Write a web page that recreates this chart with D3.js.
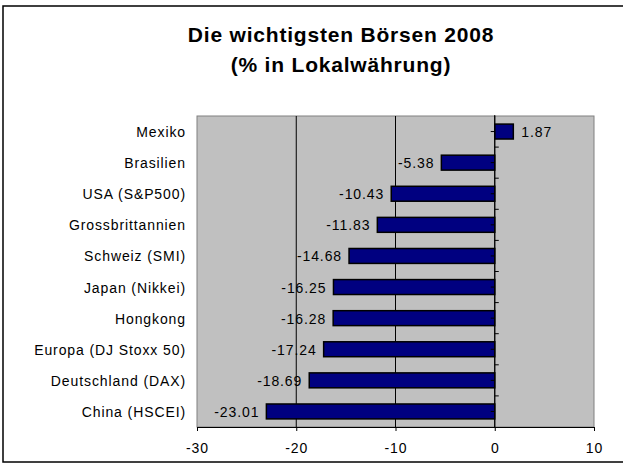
<!DOCTYPE html>
<html lang="de">
<head>
    <meta charset="UTF-8">
    <title>Die wichtigsten Börsen 2008</title>
    <script src="https://d3js.org/d3.v7.min.js"></script>
    <style>
        body { margin: 0; background: #fff; }
        text { font-family: "Liberation Sans", Arial, sans-serif; fill: #000; }
    </style>
</head>

<body>
<svg id="main" width="623" height="464"></svg>
<script>
    // the data
    const boersen = ['Mexiko', 'Brasilien', 'USA (S&P500)', 'Grossbrittannien', 'Schweiz (SMI)',
        'Japan (Nikkei)', 'Hongkong', 'Europa (DJ Stoxx 50)', 'Deutschland (DAX)', 'China (HSCEI)'];
    const veraenderung = [1.87, -5.38, -10.43, -11.83, -14.68, -16.25, -16.28, -17.24, -18.69, -23.01];
    const xTicks = [-30, -20, -10, 0, 10];
    const titel = ['Die wichtigsten Börsen 2008', '(% in Lokalwährung)'];

    let data = boersen.map(function (d, i) { return {name: d, value: veraenderung[i]}; });

    // step 1 select the svg and draw the chart frame
    let svg = d3.select('svg#main');
    let plot = {left: 197, right: 594, top: 116, bottom: 427};

    svg.append('rect')
        .attr('x', 3).attr('y', 6)
        .attr('width', 700).attr('height', 456)
        .attr('fill', '#fff')
        .attr('stroke', '#000')
        .attr('stroke-width', 1.5);

    // title, two lines
    svg.append('g').selectAll('text')
        .data(titel)
        .enter()
        .append('text')
        .attr('x', 341)
        .attr('y', function (d, i) { return 42 + i * 30; })
        .attr('text-anchor', 'middle')
        .style('font-size', '21px')
        .style('font-weight', 'bold')
        .style('letter-spacing', '0.8px')
        .text(function (d) { return d; });

    // step 2 scales
    let xScale = d3.scaleLinear()
        .domain([xTicks[0], xTicks[xTicks.length - 1]])
        .range([plot.left, plot.right]);
    let yScale = d3.scaleBand()
        .domain(boersen)
        .range([plot.top, plot.bottom])
        .paddingInner(0.52)
        .paddingOuter(0.26);

    // step 3 plot area and grid lines
    svg.append('rect')
        .attr('x', plot.left).attr('y', plot.top)
        .attr('width', plot.right - plot.left)
        .attr('height', plot.bottom - plot.top)
        .attr('fill', '#c0c0c0')
        .attr('stroke', '#808080')
        .attr('stroke-width', 1);

    svg.append('g').selectAll('line')
        .data(xTicks.slice(1, -1))
        .enter()
        .append('line')
        .attr('x1', function (d) { return xScale(d); })
        .attr('x2', function (d) { return xScale(d); })
        .attr('y1', plot.top)
        .attr('y2', plot.bottom)
        .attr('stroke', '#000')
        .attr('stroke-width', 1);

    // step 4 the bars
    svg.append('g').selectAll('rect')
        .data(data)
        .enter()
        .append('rect')
        .attr('x', function (d) { return xScale(Math.min(0, d.value)); })
        .attr('y', function (d) { return yScale(d.name); })
        .attr('width', function (d) { return Math.abs(xScale(d.value) - xScale(0)); })
        .attr('height', yScale.bandwidth())
        .attr('fill', '#000080')
        .attr('stroke', '#000')
        .attr('stroke-width', 1.5);

    // value labels next to the bar ends
    svg.append('g').selectAll('text')
        .data(data)
        .enter()
        .append('text')
        .attr('x', function (d) { return d.value < 0 ? xScale(d.value) - 7 : xScale(d.value) + 8; })
        .attr('y', function (d) { return yScale(d.name) + yScale.bandwidth() / 2 + 5.5; })
        .attr('text-anchor', function (d) { return d.value < 0 ? 'end' : 'start'; })
        .style('font-size', '14px')
        .style('letter-spacing', '0.9px')
        .text(function (d) { return d.value.toFixed(2); });

    // step 5 axes
    // the category axis sits on the zero line, ticks at centres and boundaries
    let step = yScale.step();
    let zero = xScale(0);
    let yAxis = svg.append('g').attr('class', 'axis');
    yAxis.append('line')
        .attr('x1', zero).attr('x2', zero)
        .attr('y1', plot.top - 1).attr('y2', plot.bottom)
        .attr('stroke', '#000');
    yAxis.selectAll('line.centre')
        .data(boersen)
        .enter()
        .append('line')
        .attr('class', 'centre')
        .attr('x1', zero - 4).attr('x2', zero)
        .attr('y1', function (d) { return yScale(d) + yScale.bandwidth() / 2; })
        .attr('y2', function (d) { return yScale(d) + yScale.bandwidth() / 2; })
        .attr('stroke', '#000');
    yAxis.selectAll('line.bound')
        .data(boersen.slice(1))
        .enter()
        .append('line')
        .attr('class', 'bound')
        .attr('x1', zero).attr('x2', zero + 4)
        .attr('y1', function (d) { return yScale(d) + yScale.bandwidth() / 2 - step / 2; })
        .attr('y2', function (d) { return yScale(d) + yScale.bandwidth() / 2 - step / 2; })
        .attr('stroke', '#000');

    // category names on the left of the plot area
    svg.append('g').selectAll('text')
        .data(boersen)
        .enter()
        .append('text')
        .attr('x', 186)
        .attr('y', function (d) { return yScale(d) + yScale.bandwidth() / 2 + 5.5; })
        .attr('text-anchor', 'end')
        .style('font-size', '14px')
        .style('letter-spacing', '0.9px')
        .text(function (d) { return d; });

    // value axis at the bottom
    let xAxis = svg.append('g')
        .attr('class', 'axis')
        .attr('transform', 'translate(0,' + plot.bottom + ')')
        .call(d3.axisBottom(xScale).tickValues(xTicks).tickSize(4).tickPadding(12));
    xAxis.select('.domain').attr('stroke', '#000');
    xAxis.selectAll('.tick line').attr('stroke', '#000');
    xAxis.selectAll('.tick text')
        .attr('fill', '#000')
        .style('font-family', '"Liberation Sans", Arial, sans-serif')
        .style('font-size', '14px')
        .style('letter-spacing', '0.9px')
        .text(function (d) { return d; });
</script>

</body>
</html>
